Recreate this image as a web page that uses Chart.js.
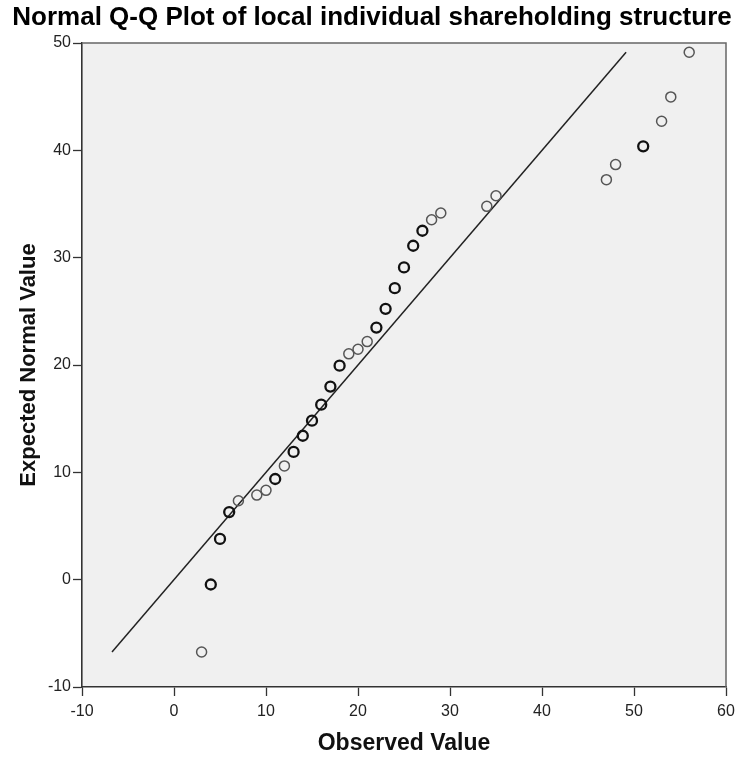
<!DOCTYPE html>
<html>
<head>
<meta charset="utf-8">
<script src="https://cdn.jsdelivr.net/npm/chart.js@4/dist/chart.umd.min.js"></script>
<style>
  body { margin: 0; background: #fff; }
  #wrap { width: 738px; height: 760px; }
</style>
</head>
<body>
<div id="wrap"><canvas id="qq" width="738" height="760"></canvas></div>
<script>
const observed = [3, 4, 5, 6, 7, 9, 10, 11, 12, 13, 14, 15, 16, 17, 18, 19, 20, 21,
  22, 23, 24, 25, 26, 27, 28, 29, 34, 35, 47, 48, 51, 53, 54, 56];
const expected = [-6.74, -0.45, 3.8, 6.3, 7.35, 7.88, 8.32, 9.38, 10.6, 11.9, 13.41, 14.81,
  16.3, 17.99, 19.94, 21.04, 21.47, 22.18, 23.49, 25.23, 27.16, 29.09, 31.11, 32.51,
  33.53, 34.16, 34.78, 35.77, 37.27, 38.67, 40.37, 42.71, 44.98, 49.14];
// how many cases share each observed value (ties show as darker circles)
const ties = [1, 2, 2, 2, 1, 1, 1, 2, 1, 2, 2, 2, 2, 2, 2, 1, 1, 1,
  2, 2, 2, 2, 2, 2, 1, 1, 1, 1, 1, 1, 2, 1, 1, 1];

const xTicks = [-10, 0, 10, 20, 30, 40, 50, 60];
const yTicks = [-10, 0, 10, 20, 30, 40, 50];

const chartTitle = 'Normal Q-Q Plot of local individual shareholding structure';

// reference line y = x across the range of expected values
const lineLo = Math.min(...expected);
const lineHi = Math.max(...expected);

const points = observed.map((x, i) => ({ x: x, y: expected[i] }));

// grey plot area, frame and title
const framePlugin = {
    id: 'frame',
    beforeDraw(chart) {
        const { ctx, chartArea: a } = chart;
        ctx.save();
        ctx.fillStyle = '#fff';
        ctx.fillRect(0, 0, chart.width, chart.height);
        ctx.fillStyle = '#f0f0f0';
        ctx.fillRect(a.left, a.top, a.right - a.left, a.bottom - a.top);
        ctx.restore();
    },
    afterDraw(chart) {
        const { ctx, chartArea: a } = chart;
        ctx.save();
        ctx.strokeStyle = '#666';
        ctx.lineWidth = 1.5;
        ctx.beginPath();
        ctx.moveTo(a.left, a.top);
        ctx.lineTo(a.right, a.top);
        ctx.lineTo(a.right, a.bottom);
        ctx.stroke();
        ctx.fillStyle = '#000';
        ctx.font = 'bold 26px "Liberation Sans", Arial, sans-serif';
        ctx.textAlign = 'center';
        ctx.textBaseline = 'middle';
        ctx.fillText(chartTitle, 372, 18);
        ctx.restore();
    }
};

const tickFont = { size: 16, family: '"Liberation Sans", Arial' };

new Chart(document.getElementById('qq'), {
    type: 'scatter',
    data: {
        datasets: [{
            label: 'cases',
            data: points,
            pointStyle: 'circle',
            pointRadius: 5,
            backgroundColor: 'rgba(0,0,0,0)',
            borderColor: ties.map(t => t > 1 ? '#111' : '#555'),
            borderWidth: ties.map(t => t > 1 ? 2.3 : 1.5),
            order: 1
        }, {
            type: 'line',
            label: 'reference',
            data: [{ x: lineLo, y: lineLo }, { x: lineHi, y: lineHi }],
            borderColor: '#222',
            borderWidth: 1.5,
            pointRadius: 0,
            fill: false,
            order: 2
        }]
    },
    options: {
        responsive: false,
        animation: false,
        layout: { padding: { left: 10, right: 12, top: 43, bottom: 0 } },
        plugins: {
            legend: { display: false },
            tooltip: { enabled: false }
        },
        scales: {
            x: {
                type: 'linear',
                min: -10,
                max: 60,
                afterBuildTicks: s => { s.ticks = xTicks.map(v => ({ value: v })); },
                afterFit: s => { s.height = 73; s.paddingRight = 0; s.paddingLeft = 0; },
                ticks: { color: '#222', padding: 6, font: tickFont },
                grid: { drawOnChartArea: false, tickLength: 9, tickColor: '#333', tickWidth: 1.3 },
                border: { color: '#333', width: 1.6 },
                title: {
                    display: true,
                    text: 'Observed Value',
                    color: '#111',
                    font: { size: 23, weight: 'bold', family: '"Liberation Sans", Arial' },
                    padding: { top: 0, bottom: 3 }
                }
            },
            y: {
                type: 'linear',
                min: -10,
                max: 50,
                afterBuildTicks: s => { s.ticks = yTicks.map(v => ({ value: v })); },
                afterFit: s => { s.width = 72; s.paddingTop = 0; s.paddingBottom = 0; },
                ticks: { color: '#222', padding: 2, font: tickFont },
                grid: { drawOnChartArea: false, tickLength: 9, tickColor: '#333', tickWidth: 1.3 },
                border: { color: '#333', width: 1.6 },
                title: {
                    display: true,
                    text: 'Expected Normal Value',
                    color: '#111',
                    font: { size: 22, weight: 'bold', family: '"Liberation Sans", Arial' },
                    padding: { top: 6, bottom: 0 }
                }
            }
        }
    },
    plugins: [framePlugin]
});
</script>
</body>
</html>
